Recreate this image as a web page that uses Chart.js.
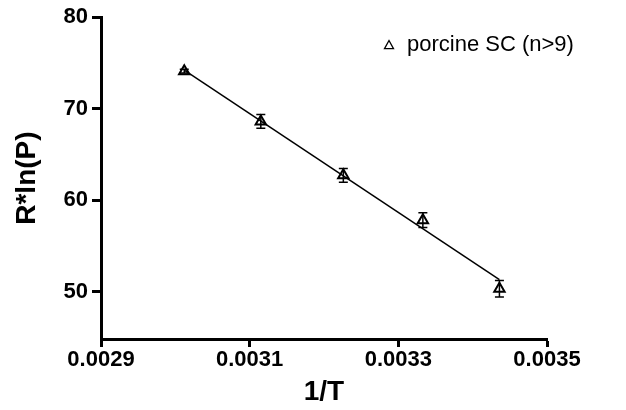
<!DOCTYPE html>
<html>
<head>
<meta charset="utf-8">
<script src="https://cdn.jsdelivr.net/npm/chart.js@4/dist/chart.umd.min.js"></script>
<style>
  html, body { margin: 0; padding: 0; background: #fff; }
  #wrap { width: 626px; height: 410px; }
</style>
</head>
<body>
<div id="wrap"><canvas id="chart" width="626" height="410"></canvas></div>
<script>
// values (1/T in 1/K)
const invT = [0.003012, 0.003115, 0.003226, 0.003333, 0.003436];
const rlnP = [74.1, 68.6, 62.7, 57.8, 50.3];
const rlnPErr = [0.2, 0.75, 0.75, 0.8, 0.9];
const fitX = [0.003012, 0.003436];
const fitY = [74.2, 51.3];
const xTicks = [0.0029, 0.0031, 0.0033, 0.0035];
const yTicks = [50, 60, 70, 80];
const seriesLabel = 'porcine SC (n>9)';

const FONT = "'Liberation Sans', Arial, sans-serif";

const errorBars = {
    id: 'errorBars',
    afterDatasetsDraw(chart) {
        const xs = chart.scales.x, ys = chart.scales.y;
        const ctx = chart.ctx;
        ctx.save();
        ctx.strokeStyle = '#000';
        ctx.lineWidth = 1.5;
        invT.forEach((x, i) => {
            const px = xs.getPixelForValue(x);
            const top = ys.getPixelForValue(rlnP[i] + rlnPErr[i]);
            const bot = ys.getPixelForValue(rlnP[i] - rlnPErr[i]);
            ctx.beginPath();
            ctx.moveTo(px, top); ctx.lineTo(px, bot);
            ctx.moveTo(px - 4.5, top); ctx.lineTo(px + 4.5, top);
            ctx.moveTo(px - 4.5, bot); ctx.lineTo(px + 4.5, bot);
            ctx.stroke();
        });
        ctx.restore();
    }
};

const legendBox = {
    id: 'legendBox',
    afterDraw(chart) {
        const ctx = chart.ctx;
        ctx.save();
        ctx.strokeStyle = '#000';
        ctx.lineWidth = 1.3;
        const cx = 389, cy = 45, r = 4.5;
        ctx.beginPath();
        ctx.moveTo(cx, cy - r);
        ctx.lineTo(cx + r, cy + r * 0.8);
        ctx.lineTo(cx - r, cy + r * 0.8);
        ctx.closePath();
        ctx.stroke();
        ctx.fillStyle = '#000';
        ctx.font = '22px ' + FONT;
        ctx.textBaseline = 'middle';
        ctx.fillText(seriesLabel, 407, cy);
        ctx.restore();
    }
};

new Chart(document.getElementById('chart'), {
    type: 'scatter',
    data: {
        datasets: [{
            label: seriesLabel,
            data: invT.map((x, i) => ({ x: x, y: rlnP[i] })),
            pointStyle: 'triangle',
            pointRadius: 6,
            borderWidth: 2,
            borderColor: '#000',
            backgroundColor: 'rgba(255,255,255,0)',
            order: 1,
        }, {
            type: 'line',
            label: 'fit',
            data: fitX.map((x, i) => ({ x: x, y: fitY[i] })),
            borderColor: '#000',
            borderWidth: 1.5,
            pointRadius: 0,
            fill: false,
            order: 2,
        }],
    },
    options: {
        responsive: false,
        animation: false,
        layout: { padding: { top: 16, right: 79, bottom: 0, left: 0 } },
        plugins: { legend: { display: false }, tooltip: { enabled: false } },
        scales: {
            x: {
                type: 'linear',
                min: 0.0029,
                max: 0.0035,
                afterBuildTicks: (scale) => { scale.ticks = xTicks.map((v) => ({ value: v })); },
                afterFit: (scale) => { scale.height = 71; },
                border: { display: true, color: '#000', width: 3 },
                grid: { drawOnChartArea: false, drawTicks: true, tickLength: 8, tickWidth: 3, tickColor: '#000' },
                ticks: {
                    color: '#000',
                    padding: 0,
                    maxRotation: 0,
                    font: { family: FONT, size: 22, weight: 'bold' },
                    callback: (v) => v.toFixed(4),
                },
                title: {
                    display: true,
                    text: '1/T',
                    color: '#000',
                    font: { family: FONT, size: 28, weight: 'bold' },
                    padding: { top: 0, bottom: 1 },
                },
            },
            y: {
                type: 'linear',
                min: 44.8,
                max: 80,
                afterBuildTicks: (scale) => { scale.ticks = yTicks.map((v) => ({ value: v })); },
                afterFit: (scale) => { scale.width = 101; },
                border: { display: true, color: '#000', width: 3 },
                grid: { drawOnChartArea: false, drawTicks: true, tickLength: 9, tickWidth: 3, tickColor: '#000' },
                ticks: {
                    color: '#000',
                    padding: 4,
                    font: { family: FONT, size: 22, weight: 'bold' },
                },
                title: {
                    display: true,
                    text: 'R*ln(P)',
                    color: '#000',
                    font: { family: FONT, size: 28, weight: 'bold' },
                    padding: { top: 10, bottom: 0 },
                },
            },
        },
    },
    plugins: [errorBars, legendBox],
});
</script>
</body>
</html>
